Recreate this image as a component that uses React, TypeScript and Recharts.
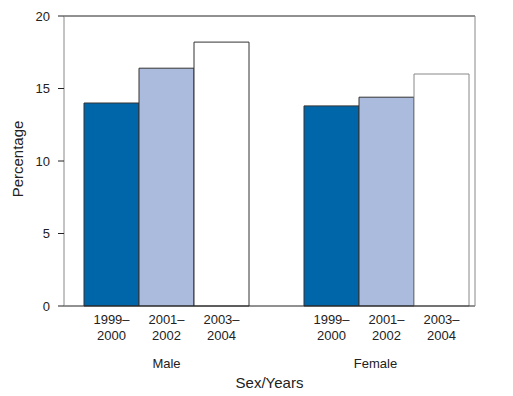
import { BarChart, Bar, Cell, XAxis, YAxis, Label } from 'recharts';

const groups = ['Male', 'Female'];
const periods = ['1999–2000', '2001–2002', '2003–2004'];
const maleValues = [14.0, 16.4, 18.2];
const femaleValues = [13.8, 14.4, 16.0];
const yTicks = [0, 5, 10, 15, 20];

const FONT = '"Liberation Sans", Arial, sans-serif';
const periodFills = ['#0066AA', '#AABBDD', '#FFFFFF'];
const groupLabelDx = [0, -11];

type Row = { key: string; group: number; period: number; value: number | null };

const rows: Row[] = [
  ...periods.map((p, i) => ({ key: `Male|${p}`, group: 0, period: i, value: maleValues[i] })),
  { key: 'gap', group: -1, period: -1, value: null },
  ...periods.map((p, i) => ({ key: `Female|${p}`, group: 1, period: i, value: femaleValues[i] })),
];

function YearTick(props: any) {
  const { x, y, payload } = props;
  const row = rows.find((r) => r.key === payload.value);
  if (!row || row.group < 0) return null;
  const [start, end] = periods[row.period].split('–');
  return (
    <g>
      <text x={x} y={y + 17.6} textAnchor="middle" fontSize={13} fill="#222" fontFamily={FONT}>
        {start}–
      </text>
      <text x={x} y={y + 33.6} textAnchor="middle" fontSize={13} fill="#222" fontFamily={FONT}>
        {end}
      </text>
      {row.period === 1 && (
        <text
          x={x + groupLabelDx[row.group]}
          y={y + 61.6}
          textAnchor="middle"
          fontSize={13}
          fill="#222"
          fontFamily={FONT}
        >
          {groups[row.group]}
        </text>
      )}
    </g>
  );
}

export default function App() {
  return (
    <div style={{ position: 'absolute', left: 0, top: 0, width: 513, height: 396, background: '#fff' }}>
      <BarChart
        width={513}
        height={396}
        data={rows}
        margin={{ top: 15, right: 37, bottom: 0, left: 0 }}
        barCategoryGap={0}
        barGap={0}
      >
        <XAxis
          dataKey="key"
          height={90}
          padding={{ left: 20, right: 6 }}
          axisLine={{ stroke: '#222' }}
          tickLine={false}
          tickSize={0}
          tickMargin={0}
          interval={0}
          tick={<YearTick />}
        >
          <Label
            value="Sex/Years"
            position="insideBottom"
            offset={8}
            fontSize={15}
            fill="#222"
            fontFamily={FONT}
          />
        </XAxis>
        <XAxis
          xAxisId="top"
          dataKey="key"
          orientation="top"
          height={1}
          tick={false}
          tickLine={false}
          axisLine={{ stroke: '#222' }}
        />
        <YAxis
          domain={[0, 20]}
          ticks={yTicks}
          width={64}
          tickSize={6}
          tickMargin={8}
          axisLine={{ stroke: '#888' }}
          tickLine={{ stroke: '#222' }}
          tick={{ fontSize: 13, fill: '#222', fontFamily: FONT }}
          label={{
            content: () => (
              <text
                x={0}
                y={0}
                transform="translate(23 159) rotate(-90)"
                textAnchor="middle"
                fontSize={15}
                fill="#222"
                fontFamily={FONT}
              >
                Percentage
              </text>
            ),
          }}
        />
        <YAxis
          yAxisId="right"
          orientation="right"
          width={1}
          domain={[0, 20]}
          tick={false}
          tickLine={false}
          axisLine={{ stroke: '#888' }}
        />
        <Bar dataKey="value" isAnimationActive={false}>
          {rows.map((r) => (
            <Cell
              key={r.key}
              fill={r.period >= 0 ? periodFills[r.period] : 'none'}
              stroke={r.group === 1 && r.period === 2 ? '#888' : '#333'}
              strokeWidth={1}
            />
          ))}
        </Bar>
      </BarChart>
    </div>
  );
}
